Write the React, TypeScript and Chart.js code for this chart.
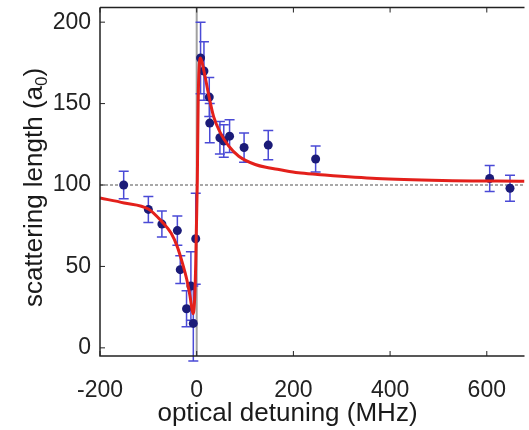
import React, { useEffect, useRef } from "react";
import { Chart, registerables } from "chart.js";

Chart.register(...registerables);

// Measured data points (optical detuning in MHz, scattering length in a0, error)
const detuning = [-151, -100, -72, -40, -34, -21, -12, -7, -2, 8, 15, 26, 27, 48, 56, 68, 98, 148, 246, 606, 648];
const scatLen = [100, 85, 76, 72, 48, 24, 38, 15, 67, 178, 170, 154, 138, 129, 127, 130, 123, 124.5, 116, 104, 98];
const scatErr = [8.5, 8, 8, 9, 8.5, 11, 21, 23, 28, 22, 18, 12, 12, 10, 10, 10, 9, 9, 8, 8, 8];

// Fit curve
const fitX = [-200, -150, -100, -72, -53, -40, -29.5, -20.5, -13.7, -9, -7, -4, -2, -0.7, 1.3, 3, 5, 8, 15, 25, 35, 49, 66, 87, 121, 148, 170, 210, 250, 372, 508, 678];
const fitY = [92, 89, 85.3, 77.5, 70.5, 62, 52, 42, 31.6, 22.5, 21, 31.6, 52, 72.6, 103, 150, 172, 178, 170, 155, 142, 132, 124, 117.7, 112.6, 110.6, 109.5, 107.5, 106.5, 104, 102.8, 102.3];

const xTicks = [-200, 0, 200, 400, 600];
const yTicks = [0, 50, 100, 150, 200];
const backgroundLength = 100;

const xTitle = "optical detuning (MHz)";
const yTitleMain = "scattering length (a";
const yTitleSub = "0";
const yTitleEnd = ")";

const FONT = "'Liberation Sans', Arial, Helvetica, sans-serif";

const framePlugin = {
  id: "frameAndBars",
  beforeDatasetsDraw(chart: any) {
    const { ctx, chartArea: a, scales } = chart;
    const x = scales.x;
    const y = scales.y;
    ctx.save();
    ctx.strokeStyle = "#a8a8a8";
    ctx.lineWidth = 2;
    ctx.setLineDash([3, 2]);
    const yb = y.getPixelForValue(backgroundLength);
    ctx.beginPath();
    ctx.moveTo(a.left, yb);
    ctx.lineTo(a.right, yb);
    ctx.stroke();
    ctx.setLineDash([]);
    ctx.strokeStyle = "#a0a0a0";
    ctx.lineWidth = 2;
    const x0 = x.getPixelForValue(0);
    ctx.beginPath();
    ctx.moveTo(x0, a.top);
    ctx.lineTo(x0, a.bottom);
    ctx.stroke();
    ctx.strokeStyle = "#4a4ad6";
    ctx.lineWidth = 1.5;
    for (let i = 0; i < detuning.length; i++) {
      const px = x.getPixelForValue(detuning[i]);
      const pt = y.getPixelForValue(scatLen[i] + scatErr[i]);
      const pb = y.getPixelForValue(scatLen[i] - scatErr[i]);
      ctx.beginPath();
      ctx.moveTo(px, pt);
      ctx.lineTo(px, pb);
      ctx.moveTo(px - 5, pt);
      ctx.lineTo(px + 5, pt);
      ctx.moveTo(px - 5, pb);
      ctx.lineTo(px + 5, pb);
      ctx.stroke();
    }
    ctx.restore();
  },
  afterDraw(chart: any) {
    const { ctx, chartArea: a, scales } = chart;
    const x = scales.x;
    const y = scales.y;
    ctx.save();
    ctx.strokeStyle = "#222";
    ctx.lineWidth = 1.5;
    ctx.beginPath();
    ctx.moveTo(a.left, a.top);
    ctx.lineTo(a.left, a.bottom);
    ctx.lineTo(a.right, a.bottom);
    ctx.moveTo(a.left, a.top);
    ctx.lineTo(a.right, a.top);
    ctx.stroke();
    ctx.lineWidth = 1;
    ctx.beginPath();
    for (const v of yTicks) {
      const py = y.getPixelForValue(v);
      ctx.moveTo(a.left, py);
      ctx.lineTo(a.left + 5, py);
    }
    for (const v of xTicks) {
      const px = x.getPixelForValue(v);
      ctx.moveTo(px, a.bottom);
      ctx.lineTo(px, a.bottom - 5);
      ctx.moveTo(px, a.top);
      ctx.lineTo(px, a.top + 5);
    }
    ctx.stroke();
    ctx.fillStyle = "#1a1a1a";
    ctx.font = `26px ${FONT}`;
    ctx.textAlign = "center";
    ctx.textBaseline = "alphabetic";
    ctx.fillText(xTitle, 287.5, 420.5);
    ctx.translate(41.5, 187.5);
    ctx.rotate(-Math.PI / 2);
    ctx.textAlign = "left";
    ctx.font = `26px ${FONT}`;
    const w1 = ctx.measureText(yTitleMain).width;
    const w3 = ctx.measureText(yTitleEnd).width;
    ctx.font = `17px ${FONT}`;
    const w2 = ctx.measureText(yTitleSub).width;
    const total = w1 + w2 + w3;
    let cx = -total / 2;
    ctx.font = `26px ${FONT}`;
    ctx.fillText(yTitleMain, cx, 0);
    cx += w1;
    ctx.font = `17px ${FONT}`;
    ctx.fillText(yTitleSub, cx, 5);
    cx += w2;
    ctx.font = `26px ${FONT}`;
    ctx.fillText(yTitleEnd, cx, 0);
    ctx.restore();
  },
};

export default function App() {
  const ref = useRef<HTMLCanvasElement | null>(null);
  useEffect(() => {
    if (!ref.current) return;
    const chart = new Chart(ref.current, {
      type: "scatter",
      data: {
        datasets: [
          {
            label: "fit",
            data: fitX.map((v, i) => ({ x: v, y: fitY[i] })),
            showLine: true,
            borderColor: "#e3201b",
            borderWidth: 3,
            pointRadius: 0,
            cubicInterpolationMode: "monotone",
            order: 0,
          } as any,
          {
            label: "data",
            data: detuning.map((v, i) => ({ x: v, y: scatLen[i] })),
            pointRadius: 4.5,
            pointBackgroundColor: "#1b1b78",
            pointBorderWidth: 0,
            showLine: false,
            order: 1,
          } as any,
        ],
      },
      options: {
        animation: false,
        responsive: false,
        devicePixelRatio: 1,
        layout: { padding: { top: 7.5, right: 0, left: 0, bottom: 0 } },
        plugins: { legend: { display: false }, tooltip: { enabled: false }, title: { display: false } },
        scales: {
          x: {
            type: "linear",
            min: -200,
            max: 678,
            grid: { display: false, drawTicks: false },
            border: { display: false },
            ticks: { font: { family: FONT, size: 23 }, color: "#222", padding: 21 },
            afterBuildTicks: (s: any) => {
              s.ticks = xTicks.map((v) => ({ value: v }));
            },
            afterFit: (s: any) => {
              s.height = 74;
              s.paddingLeft = 0;
              s.paddingRight = 0;
            },
          },
          y: {
            type: "linear",
            min: -5,
            max: 209,
            grid: { display: false, drawTicks: false },
            border: { display: false },
            ticks: { font: { family: FONT, size: 23 }, color: "#222", padding: 9 },
            afterBuildTicks: (s: any) => {
              s.ticks = yTicks.map((v) => ({ value: v }));
            },
            afterFit: (s: any) => {
              s.width = 100;
              s.paddingTop = 0;
              s.paddingBottom = 0;
            },
          },
        },
      },
      plugins: [framePlugin],
    });
    return () => chart.destroy();
  }, []);
  return (
    <div style={{ position: "absolute", left: 0, top: 0, width: 529, height: 430, background: "#fff" }}>
      <canvas ref={ref} width={529} height={430} style={{ width: 529, height: 430 }} />
    </div>
  );
}
